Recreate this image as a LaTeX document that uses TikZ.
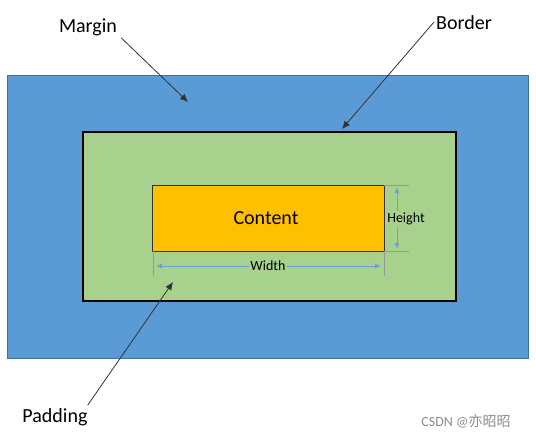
\documentclass[tikz,border=0pt]{standalone}
\usepackage{fontspec}
\setmainfont{Carlito}
\newfontfamily\cjk{Noto Sans CJK SC}
\usetikzlibrary{arrows.meta,positioning}
\definecolor{marginblue}{HTML}{5B9BD5}
\definecolor{marginline}{HTML}{41719C}
\definecolor{padgreen}{HTML}{A9D18E}
\definecolor{contentgold}{HTML}{FFC000}
\definecolor{dimblue}{HTML}{6A9FD8}

\begin{document}
\begin{tikzpicture}[x=1pt, y=-1pt, >={Latex[length=8pt,width=7pt]},
   caption/.style={font=\fontsize{20}{22}\selectfont, inner sep=1pt},
   dimtext/.style={font=\fontsize{14}{16}\selectfont, fill=padgreen, inner sep=1.5pt},
   pointer/.style={->, draw=black!80, line width=0.8pt},
   dimline/.style={draw=black!40, line width=0.6pt},
   dimarrow/.style={{Latex[length=6pt,width=5pt]}-{Latex[length=6pt,width=5pt]}, draw=dimblue, line width=1pt}
   ]
   \useasboundingbox (0,0) rectangle (536,437);

   % the three boxes
   \draw[fill=marginblue, draw=marginline, line width=0.8pt] (7,75) rectangle (528,358);
   \draw[fill=padgreen, draw=black, line width=2.8pt] (83,132) rectangle (456,301);
   \draw[fill=contentgold, draw=black!80, line width=0.7pt] (152,185) rectangle (384,251);
   \node[caption] (content) at (266,218) {Content};

   % height
   \coordinate (ht) at (384,185);
   \coordinate (hb) at (384,251);
   \draw[dimline] (ht) -- ++(25,0);
   \draw[dimline] (hb) -- ++(25,0);
   \draw[dimarrow] (397,187) -- (397,249);
   \node[dimtext] (height) at (406,219) {Height};

   % width
   \coordinate (wl) at (153,251);
   \coordinate (wr) at (384,251);
   \draw[dimline] (wl) -- ++(0,25);
   \draw[dimline] (wr) -- ++(0,25);
   \draw[dimarrow] (156,266) -- (381,266);
   \node[dimtext] (width) at (268,266) {Width};

   % labels
   \node[caption] (margin) at (88,27) {Margin};
   \node[caption] (border) at (464,23) {Border};
   \node[caption] (padding) at (55,417) {Padding};

   \coordinate (marginpt) at (188,102);
   \coordinate (borderpt) at (342,129);
   \coordinate (paddingpt) at (173,282);

   \draw[pointer] ([xshift=3pt,yshift=-1pt]margin.south east) -- (marginpt);
   \draw[pointer] ([xshift=-1pt,yshift=1pt]border.west) -- (borderpt);
   \draw[pointer] ([xshift=-1pt,yshift=2pt]padding.north east) -- (paddingpt);

   \node[text=black!45, font=\fontsize{14}{16}\selectfont] (mark) at (466,421) {CSDN @{\cjk 亦昭昭}};
\end{tikzpicture}
\end{document}
